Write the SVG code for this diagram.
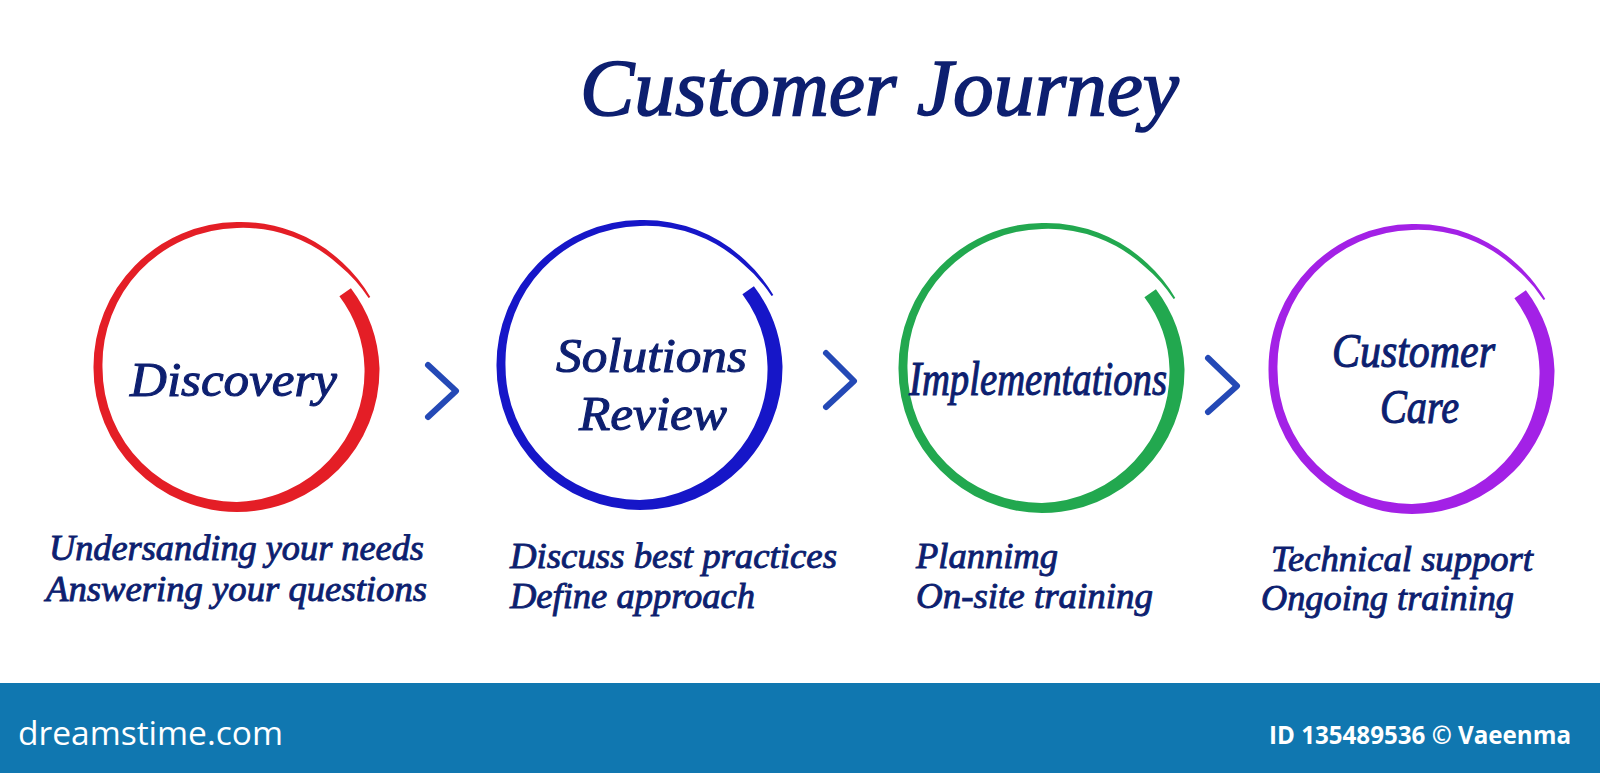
<svg xmlns="http://www.w3.org/2000/svg" xmlns:xlink="http://www.w3.org/1999/xlink" width="1600" height="773" viewBox="0 0 1600 773">
<style>
.t{font-family:"Liberation Serif","Times New Roman",serif;font-style:italic;fill:#0d1f70;stroke:#0d1f70;stroke-width:1.1;paint-order:stroke}
.title{font-size:80px;stroke-width:1.6}
.lbl{font-size:49px}
.desc{font-size:35px;stroke-width:0.9}
.chev{fill:none;stroke:#2449b6;stroke-width:6;stroke-linecap:round;stroke-linejoin:round}
.ban{font-family:"Open Sans","Noto Sans",sans-serif;fill:#ffffff}
</style>
<defs>
<path id="ring" d="M113.9,-79.7 A141,141 0 0 1 142.5,0 A143,143 0 0 1 101.6,101.6 A143.5,143.5 0 0 1 0,144 A143.5,143.5 0 0 1 -101.5,101.5 A143.5,143.5 0 0 1 -143.5,0 A144,144 0 0 1 -102.2,-102.2 A145,145 0 0 1 0,-146 A147.5,147.5 0 0 1 105.4,-105.4 A150,150 0 0 1 133.3,-70.9 L131.6,-70.0 A147,147 0 0 0 102.5,-102.5 A142.5,142.5 0 0 0 0,-140 A139,139 0 0 0 -97.2,-97.2 A136,136 0 0 0 -134.5,0 A134.5,134.5 0 0 0 -95.1,95.1 A134,134 0 0 0 0,134 A132,132 0 0 0 92.2,92.2 A129,129 0 0 0 127.5,0 A126,126 0 0 0 102.4,-71.7 Z"/>
</defs>
<rect width="1600" height="773" fill="#ffffff"/>
<text class="t title" x="580" y="115" textLength="599" lengthAdjust="spacingAndGlyphs">Customer Journey</text>

<g id="connectors">
<polyline class="chev" points="428,365 456,391 428,417"/>
<polyline class="chev" points="826,353 854,381 826,407"/>
<polyline class="chev" points="1208,358 1237,386 1208,412"/>
</g>

<g id="discovery">
<use xlink:href="#ring" href="#ring" transform="translate(237,368)" fill="#e41e26"/>
<text class="t lbl" x="130" y="396" textLength="207" lengthAdjust="spacingAndGlyphs">Discovery</text>
<text class="t desc" x="49" y="560" textLength="375" lengthAdjust="spacingAndGlyphs">Undersanding your needs</text>
<text class="t desc" x="46" y="601" textLength="381" lengthAdjust="spacingAndGlyphs">Answering your questions</text>
</g>

<g id="solutions-review">
<use xlink:href="#ring" href="#ring" transform="translate(640,366)" fill="#1616c8"/>
<text class="t lbl" x="556" y="372" textLength="191" lengthAdjust="spacingAndGlyphs">Solutions</text>
<text class="t lbl" x="579" y="430" textLength="148" lengthAdjust="spacingAndGlyphs">Review</text>
<text class="t desc" x="510" y="568" textLength="327" lengthAdjust="spacingAndGlyphs">Discuss best practices</text>
<text class="t desc" x="510" y="608" textLength="245" lengthAdjust="spacingAndGlyphs">Define approach</text>
</g>

<g id="implementations">
<use xlink:href="#ring" href="#ring" transform="translate(1042,369)" fill="#22a84f"/>
<text class="t lbl" x="909" y="395" textLength="258" lengthAdjust="spacingAndGlyphs">Implementations</text>
<text class="t desc" x="916" y="568" textLength="142" lengthAdjust="spacingAndGlyphs">Plannimg</text>
<text class="t desc" x="916" y="608" textLength="237" lengthAdjust="spacingAndGlyphs">On-site training</text>
</g>

<g id="customer-care">
<use xlink:href="#ring" href="#ring" transform="translate(1412,370)" fill="#a321e6"/>
<text class="t lbl" x="1332" y="367" textLength="163" lengthAdjust="spacingAndGlyphs">Customer</text>
<text class="t lbl" x="1380" y="423" textLength="79" lengthAdjust="spacingAndGlyphs">Care</text>
<text class="t desc" x="1271" y="571" textLength="262" lengthAdjust="spacingAndGlyphs">Technical support</text>
<text class="t desc" x="1261" y="610" textLength="253" lengthAdjust="spacingAndGlyphs">Ongoing training</text>
</g>

<g id="banner">
<rect x="0" y="683" width="1600" height="90" fill="#1077b0"/>
<text class="ban" x="18" y="745" font-size="33" textLength="265" lengthAdjust="spacingAndGlyphs">dreamstime.com</text>
<text class="ban" x="1269" y="744" font-size="25" font-family="Roboto,sans-serif" font-weight="bold" textLength="302" lengthAdjust="spacingAndGlyphs">ID 135489536 © Vaeenma</text>
</g>
</svg>
